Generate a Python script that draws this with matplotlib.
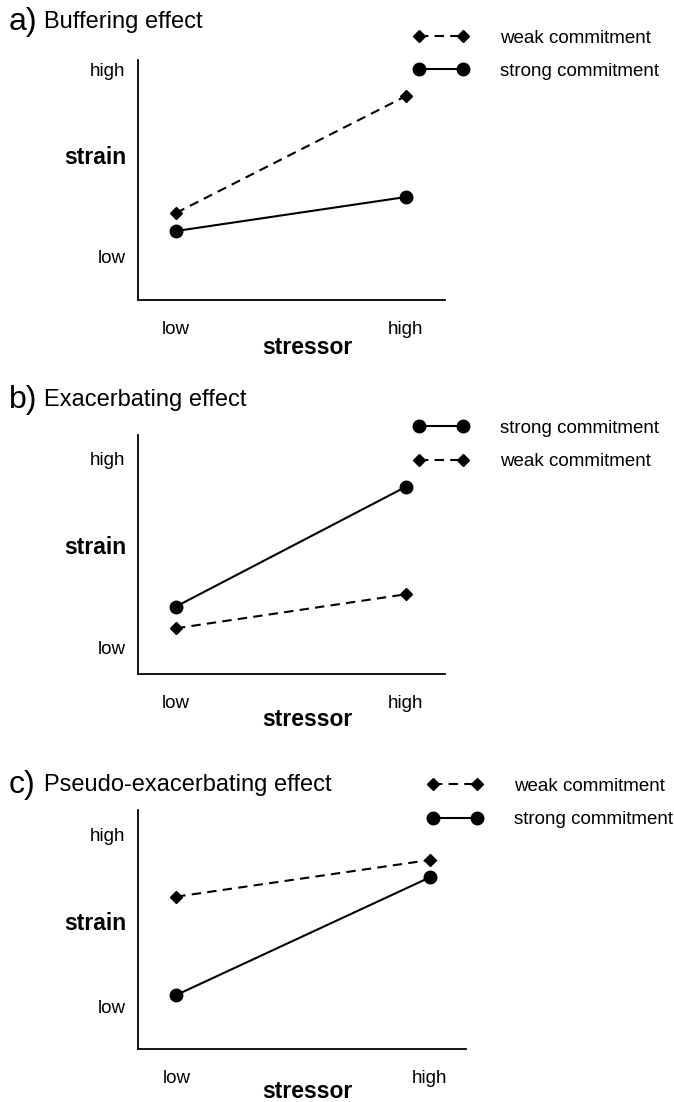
import matplotlib
matplotlib.use("Agg")
import matplotlib.pyplot as plt

plt.rcParams['font.family'] = ['Liberation Sans', 'DejaVu Sans']

# ---- data ----
stressor_levels = [0, 1]
stressor_labels = ["low", "high"]
strain_ticks = [0, 1]
strain_labels = ["low", "high"]

panel_letters = ["a)", "b)", "c)"]
panel_titles = ["Buffering effect", "Exacerbating effect", "Pseudo-exacerbating effect"]

a_weak = [0.234, 0.856]
a_strong = [0.138, 0.319]
b_strong = [0.219, 0.853]
b_weak = [0.104, 0.284]
c_weak = [0.636, 0.849]
c_strong = [0.064, 0.748]

series_names = {"weak": "weak commitment", "strong": "strong commitment"}
panel_data = [
    {"weak": a_weak, "strong": a_strong, "order": ["weak", "strong"]},
    {"weak": b_weak, "strong": b_strong, "order": ["strong", "weak"]},
    {"weak": c_weak, "strong": c_strong, "order": ["weak", "strong"]},
]

# ---- layout ----
W, H = 674, 1102
fig = plt.figure(figsize=(W / 100, H / 100), dpi=100)

def fx(px):
    return px / W

def fy(py):
    return 1 - py / H

axes_px = [  # left, right, top, bottom in pixels
    (138, 445, 60, 300),
    (138, 445, 435, 674),
    (138, 466, 810, 1049),
]
ylims = [(-0.229, 1.048), (-0.138, 1.127), (-0.25, 1.14)]
xlims = [(-0.165, 1.17), (-0.165, 1.17), (-0.151, 1.143)]
title_y = [22, 400, 785]
legend_anchor = [(413, 54.5), (413, 445), (427, 803)]
strain_y = [157, 548, 923]
stressor_off = [47, 46, 42]

styles = {
    "weak": dict(color="black", lw=1.5, dashes=(4.5, 3), marker="D", ms=6.5),
    "strong": dict(color="black", lw=1.5, linestyle="-", marker="o", ms=9),
}

for i, (l, r, t, b) in enumerate(axes_px):
    ax = fig.add_axes([fx(l), fy(b), fx(r - l), (b - t) / H])
    d = panel_data[i]
    handles = []
    for key in d["order"]:
        ln, = ax.plot(stressor_levels, d[key], label=series_names[key],
                      clip_on=False, **styles[key])
        handles.append(ln)
    ax.set_xlim(*xlims[i])
    ax.set_ylim(*ylims[i])
    for s in ["top", "right"]:
        ax.spines[s].set_visible(False)
    for s in ["left", "bottom"]:
        ax.spines[s].set_linewidth(1.3)
    ax.set_xticks(stressor_levels)
    ax.set_xticklabels(stressor_labels, fontsize=13.5)
    ax.set_yticks(strain_ticks)
    ax.set_yticklabels(strain_labels, fontsize=13.5)
    ax.tick_params(axis="x", length=0, pad=15)
    ax.tick_params(axis="y", length=0, pad=9)

    ax.set_ylabel("strain", fontsize=16.5, fontweight="bold", rotation=0,
                  ha="right", va="center")
    ax.yaxis.set_label_coords(-12 / (r - l), (b - strain_y[i]) / (b - t))
    ax.set_xlabel("stressor", fontsize=16.5, fontweight="bold", va="center")
    ax.xaxis.set_label_coords((307 - l) / (r - l), -stressor_off[i] / (b - t))

    lx, ly = legend_anchor[i]
    ax.legend(handles=handles, loc="center left",
              bbox_to_anchor=(fx(lx), fy(ly)), bbox_transform=fig.transFigure,
              frameon=False, numpoints=2, fontsize=13.5, handlelength=2.95,
              handletextpad=1.7, labelspacing=0.85, borderpad=0, borderaxespad=0)

    fig.text(fx(9), fy(title_y[i]), panel_letters[i], fontsize=23, va="center", ha="left")
    fig.text(fx(44), fy(title_y[i]), panel_titles[i], fontsize=17, va="center", ha="left")

fig.savefig("out.png", dpi=100, facecolor="white")
